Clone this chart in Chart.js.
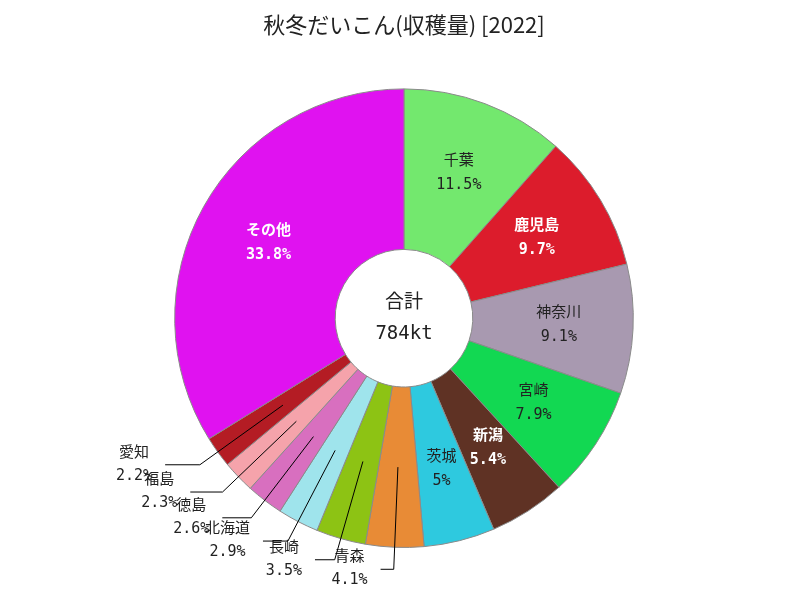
<!DOCTYPE html>
<html>
<head>
<meta charset="utf-8">
<script src="https://cdn.jsdelivr.net/npm/chart.js@4/dist/chart.umd.min.js"></script>
<style>
  html, body { margin: 0; padding: 0; background: #fff; }
  #wrap { width: 800px; height: 600px; }
</style>
</head>
<body>
<div id="wrap"><canvas id="pieCanvas" width="800" height="600"></canvas></div>
<script>
// 秋冬だいこん 収穫量 2022 (kt)
const prefs = ['千葉', '鹿児島', '神奈川', '宮崎', '新潟', '茨城', '青森', '長崎', '北海道', '徳島', '福島', '愛知', 'その他'];
const harvest = [90.2, 76.0, 71.3, 61.9, 42.3, 39.2, 32.1, 27.4, 22.7, 20.4, 18.0, 17.2, 265.0];
const sliceColors = ['#73e86e', '#dc1c2c', '#a899b0', '#12d852', '#5f3224', '#2ec9df', '#e88b36',
                     '#8dc314', '#9fe4ec', '#d86fbf', '#f5a3ab', '#b41c24', '#e012f0'];
const centerLines = ['合計', '784kt'];

const FONT = '"DejaVu Sans Mono", "Noto Sans CJK JP", sans-serif';
const total = harvest.reduce((a, b) => a + b, 0);

function pctText(v) {
    return (+(v / total * 100).toFixed(1)) + '%';
}

function isDark(hex) {
    const r = parseInt(hex.substr(1, 2), 16), g = parseInt(hex.substr(3, 2), 16), b = parseInt(hex.substr(5, 2), 16);
    return (0.299 * r + 0.587 * g + 0.114 * b) < 110;
}

// ラベルと引き出し線
const labelPlugin = {
    id: 'sliceLabels',
    afterDatasetsDraw(chart) {
        const ctx = chart.ctx;
        const meta = chart.getDatasetMeta(0);
        ctx.save();
        ctx.textAlign = 'center';
        ctx.textBaseline = 'middle';
        meta.data.forEach((arc, i) => {
            const p = arc.getProps(['x', 'y', 'startAngle', 'endAngle', 'innerRadius', 'outerRadius'], true);
            const mid = (p.startAngle + p.endAngle) / 2;
            const share = harvest[i] / total * 100;
            const cos = Math.cos(mid), sin = Math.sin(mid);
            const midR = (p.innerRadius + p.outerRadius) / 2;
            if (share >= 4.5) {
                const r = midR + 6;
                const cx = p.x + cos * r, cy = p.y + sin * r;
                const dark = isDark(sliceColors[i]);
                ctx.fillStyle = dark ? '#ffffff' : '#222222';
                ctx.font = (dark ? 'bold ' : '') + '15px ' + FONT;
                ctx.fillText(prefs[i], cx, cy - 12);
                ctx.fillText(pctText(harvest[i]), cx, cy + 12);
            } else {
                const sx = p.x + cos * midR, sy = p.y + sin * midR;
                const er = p.outerRadius + 22;
                const ex = p.x + cos * er, ey = p.y + sin * er;
                const dir = cos < 0 ? -1 : 1;
                const len = 12 + 28 * Math.abs(cos);
                const hx = ex + dir * len;
                ctx.strokeStyle = '#000';
                ctx.lineWidth = 1;
                ctx.beginPath();
                ctx.moveTo(sx, sy);
                ctx.lineTo(ex, ey);
                ctx.lineTo(hx, ey);
                ctx.stroke();
                ctx.font = '15px ' + FONT;
                const w = Math.max(ctx.measureText(prefs[i]).width, ctx.measureText(pctText(harvest[i])).width);
                const tx = hx + dir * (13 + w / 2);
                ctx.fillStyle = '#222222';
                ctx.fillText(prefs[i], tx, ey - 12);
                ctx.fillText(pctText(harvest[i]), tx, ey + 11);
            }
        });
        // 中央のテキスト
        const a0 = meta.data[0];
        ctx.fillStyle = '#222222';
        ctx.font = '19px ' + FONT;
        ctx.fillText(centerLines[0], a0.x, a0.y - 15);
        ctx.fillText(centerLines[1], a0.x, a0.y + 16);
        ctx.restore();
    }
};

const ctx = document.getElementById('pieCanvas').getContext('2d');
new Chart(ctx, {
    type: 'doughnut',
    data: {
        labels: prefs,
        datasets: [{
            data: harvest,
            backgroundColor: sliceColors,
            borderColor: '#8a8a8a',
            borderWidth: 1
        }]
    },
    options: {
        responsive: false,
        animation: false,
        cutout: '30%',
        layout: { padding: { left: 8, right: 0, top: 0, bottom: 52 } },
        plugins: {
            legend: { display: false },
            tooltip: { enabled: false },
            title: {
                display: true,
                text: '秋冬だいこん(収穫量) [2022]',
                color: '#222222',
                font: { family: '"Noto Sans CJK JP", sans-serif', size: 22, weight: 'normal' },
                padding: { top: 11, bottom: 51 }
            }
        }
    },
    plugins: [labelPlugin]
});
</script>
</body>
</html>
